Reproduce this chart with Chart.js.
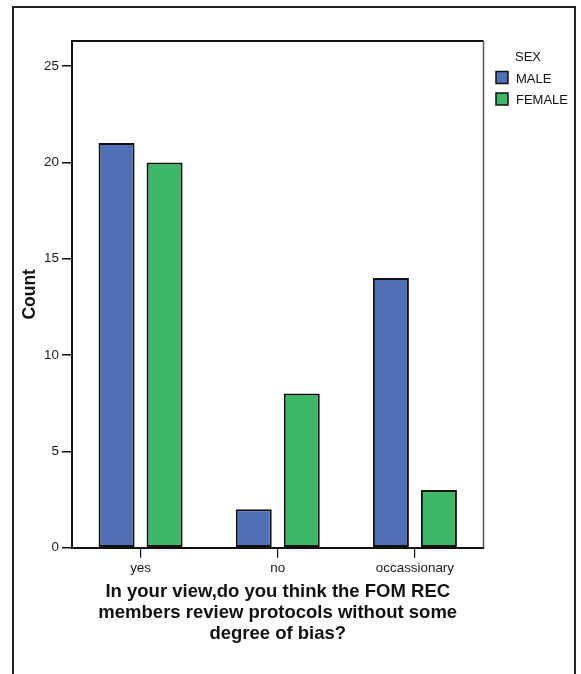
<!DOCTYPE html>
<html>
<head>
<meta charset="utf-8">
<script src="https://cdn.jsdelivr.net/npm/chart.js@4.4.1/dist/chart.umd.min.js"></script>
<style>
    html, body { margin: 0; padding: 0; background: #fff; }
    #wrap { position: relative; width: 581px; height: 674px; }
</style>
</head>
<body>
<div id="wrap"><canvas id="biasChart"></canvas></div>
<script>
const categories = ['yes', 'no', 'occassionary'];
const maleCounts = [21, 2, 14];
const femaleCounts = [20, 8, 3];
const seriesNames = ['MALE', 'FEMALE'];
const yTicks = [0, 5, 10, 15, 20, 25];
const legendTitle = 'SEX';
const yTitle = 'Count';
const xTitle = ['In your view,do you think the FOM REC', 'members review protocols without some', 'degree of bias?'];

document.addEventListener('DOMContentLoaded', () => {

    const palette = {
        blue: '#4f6fb6',
        green: '#3db768',
        ink: '#111111',
        frame: '#222222'
    };
    const family = '"Liberation Sans", Arial, Helvetica, sans-serif';

    // outer frame, top/right edge of the plot box, and the SPSS-style legend
    const framePlugin = {
        id: 'spssFrame',
        afterDraw(chart) {
            const { ctx, chartArea } = chart;
            ctx.save();
            ctx.strokeStyle = palette.frame;
            ctx.lineWidth = 2;
            ctx.beginPath();
            ctx.moveTo(13, 674);
            ctx.lineTo(13, 7);
            ctx.lineTo(575, 7);
            ctx.lineTo(575, 674);
            ctx.stroke();

            ctx.strokeStyle = palette.ink;
            ctx.beginPath();
            ctx.moveTo(chartArea.left, chartArea.top);
            ctx.lineTo(chartArea.right, chartArea.top);
            ctx.stroke();
            ctx.strokeStyle = '#555';
            ctx.lineWidth = 1.5;
            ctx.beginPath();
            ctx.moveTo(chartArea.right, chartArea.top);
            ctx.lineTo(chartArea.right, chartArea.bottom);
            ctx.stroke();

            ctx.font = '13px ' + family;
            ctx.fillStyle = palette.ink;
            ctx.textBaseline = 'alphabetic';
            ctx.textAlign = 'left';
            ctx.fillText(legendTitle, 515, 61);
            chart.data.datasets.forEach((ds, i) => {
                const y = 71.5 + i * 21.5;
                ctx.fillStyle = ds.backgroundColor;
                ctx.fillRect(496, y, 12, 12);
                ctx.strokeStyle = palette.ink;
                ctx.lineWidth = 1.5;
                ctx.strokeRect(496, y, 12, 12);
                ctx.fillStyle = palette.ink;
                ctx.fillText(ds.label, 516, y + 11.2);
            });
            ctx.restore();
        }
    };

    const ctx = document.getElementById('biasChart').getContext('2d');
    new Chart(ctx, {
        type: 'bar',
        data: {
            labels: categories,
            datasets: [{
                label: seriesNames[0],
                data: maleCounts,
                backgroundColor: palette.blue,
                borderColor: palette.ink,
                borderWidth: 2,
                borderSkipped: false
            }, {
                label: seriesNames[1],
                data: femaleCounts,
                backgroundColor: palette.green,
                borderColor: palette.ink,
                borderWidth: 2,
                borderSkipped: false
            }]
        },
        options: {
            responsive: true,
            maintainAspectRatio: false,
            animation: false,
            categoryPercentage: 0.70,
            barPercentage: 0.75,
            layout: {
                padding: { top: 41, right: 97.5, bottom: 0, left: 0 }
            },
            plugins: {
                legend: { display: false },
                tooltip: { enabled: false }
            },
            scales: {
                x: {
                    afterFit: (scale) => { scale.height = 126.3; },
                    grid: {
                        offset: false,
                        drawOnChartArea: false,
                        drawTicks: true,
                        tickLength: 10,
                        color: palette.ink,
                        lineWidth: 1.2
                    },
                    border: { display: true, color: palette.ink, width: 2 },
                    ticks: {
                        color: '#1a1a1a',
                        padding: 3,
                        font: { family: family, size: 13.4 }
                    },
                    title: {
                        display: true,
                        text: xTitle,
                        color: palette.ink,
                        padding: { top: 0, bottom: 29.6 },
                        font: { family: family, size: 18.5, weight: 'bold', lineHeight: 1.135 }
                    }
                },
                y: {
                    min: 0,
                    max: 26.3,
                    afterFit: (scale) => { scale.width = 72; },
                    afterBuildTicks: (scale) => {
                        scale.ticks = yTicks.map(v => ({ value: v }));
                    },
                    grid: {
                        drawOnChartArea: false,
                        drawTicks: true,
                        tickLength: 10,
                        color: palette.ink,
                        lineWidth: 1.5
                    },
                    border: { display: true, color: palette.ink, width: 2 },
                    ticks: {
                        color: '#1a1a1a',
                        padding: 3,
                        font: { family: family, size: 13.4 }
                    },
                    title: {
                        display: true,
                        text: yTitle,
                        color: palette.ink,
                        padding: { top: 20, bottom: 0 },
                        font: { family: family, size: 17.5, weight: 'bold' }
                    }
                }
            }
        },
        plugins: [framePlugin]
    });
});
</script>
</body>
</html>
